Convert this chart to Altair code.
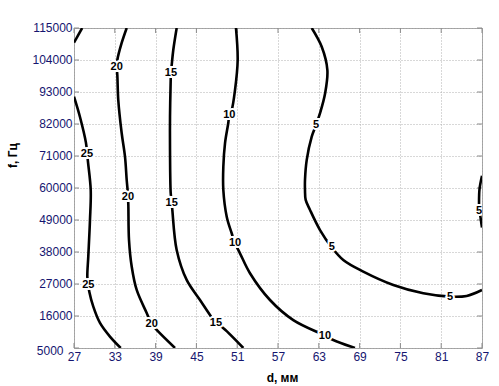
import altair as alt
import pandas as pd

x_ticks = [27, 33, 39, 45, 51, 57, 63, 69, 75, 81, 87]
y_ticks = [5000, 16000, 27000, 38000, 49000, 60000, 71000, 82000, 93000, 104000, 115000]

# contour level 25 (upper-left corner piece and main line)
c25a_d = [27.0, 28.2]
c25a_f = [110000, 115000]
c25_d = [27.0, 27.88, 28.76, 29.06, 29.46, 29.35, 29.10, 28.96, 29.10, 29.25, 29.84, 30.82, 32.29, 33.87]
c25_f = [91400, 84400, 75500, 68900, 59300, 49000, 36400, 29500, 26700, 24350, 19200, 13600, 8900, 5000]
# level 20
c20_d = [34.75, 34.01, 33.37, 33.28, 33.37, 33.51, 34.01, 34.50, 34.75, 34.90, 34.94, 34.99, 35.09, 35.49, 36.22, 37.69, 38.43, 39.16, 41.85]
c20_f = [115000, 109850, 104000, 101700, 98850, 90250, 78900, 70750, 62750, 58750, 56900, 54150, 42100, 32950, 24950, 17050, 13250, 11200, 5000]
# level 15
c15_d = [42.10, 41.60, 41.37, 41.26, 41.22, 41.12, 41.12, 41.22, 41.37, 41.46, 42.10, 43.57, 45.53, 47.00, 47.88, 48.72, 51.90]
c15_f = [115000, 107450, 102300, 99650, 97100, 84500, 73050, 58300, 54750, 52450, 38700, 28400, 21500, 16350, 13500, 12300, 5000]
# level 10
c10_d = [50.82, 51.07, 50.68, 50.19, 49.84, 49.69, 49.21, 48.96, 48.96, 49.46, 50.19, 50.68, 51.41, 52.88, 55.82, 59.25, 63.91, 65.13, 68.32]
c10_f = [115000, 104000, 93700, 86800, 85100, 82350, 75450, 67300, 59300, 50150, 44450, 41000, 37550, 30700, 21500, 14600, 9250, 7750, 5000]
# level 5 (main) and small piece at the right edge
c5_d = [61.96, 63.43, 64.26, 63.93, 63.18, 62.59, 61.96, 61.22, 60.97, 60.97, 61.07, 61.71, 63.18, 64.90, 66.60, 69.54, 73.96, 78.37, 82.29, 84.75, 87.0]
c5_f = [115000, 108550, 100550, 92550, 85700, 81650, 77650, 69600, 62750, 59300, 55900, 52450, 45550, 39600, 35250, 31250, 26650, 23800, 22650, 22900, 24950]
c5r_d = [87.0, 86.63, 86.56, 86.56, 86.71, 86.93, 87.0]
c5r_f = [64200, 59500, 54300, 52100, 50900, 47450, 46400]

lab_d = [28.91, 29.10, 33.28, 34.94, 38.43, 41.26, 41.37, 47.88, 49.84, 50.68, 63.91, 62.59, 64.90, 82.29, 86.56]
lab_f = [71700, 26650, 101700, 56900, 13250, 99650, 54750, 13500, 85100, 41000, 9250, 81650, 39600, 22650, 52100]
lab_t = ["25", "25", "20", "20", "20", "15", "15", "15", "10", "10", "10", "5", "5", "5", "5"]

segs = [("25a", c25a_d, c25a_f), ("25", c25_d, c25_f), ("20", c20_d, c20_f),
        ("15", c15_d, c15_f), ("10", c10_d, c10_f), ("5", c5_d, c5_f), ("5r", c5r_d, c5r_f)]
rows = []
for name, ds, fs in segs:
    for i, (d, f) in enumerate(zip(ds, fs)):
        rows.append({"seg": name, "d": d, "f": f, "o": i})
df = pd.DataFrame(rows)
labels = pd.DataFrame({"d": lab_d, "f": lab_f, "t": lab_t})
xt = pd.DataFrame({"d": x_ticks})
yt = pd.DataFrame({"f": y_ticks})

FONT = "Liberation Sans"
LABC = "#151570"
xs = alt.Scale(domain=[27, 87], nice=False, zero=False)
ys = alt.Scale(domain=[5000, 115000], nice=False, zero=False)
xaxis = alt.Axis(values=x_ticks, title="d, мм", grid=True, ticks=False, domain=False,
                 labelFont=FONT, labelFontSize=12, labelColor=LABC, labelPadding=3,
                 labelFlush=False, format="d",
                 titleFont=FONT, titleFontSize=12, titleFontWeight="bold", titleColor="#000000",
                 titleX=208, titleY=33, titleBaseline="alphabetic", titleAlign="center",
                 gridColor="#b0b0b0", gridDash=[1, 2], gridWidth=1)
yaxis = alt.Axis(values=y_ticks, title="f, Гц", grid=True, ticks=False, domain=False,
                 labelFont=FONT, labelFontSize=12, labelColor=LABC,
                 labelPadding={"condition": {"test": "datum.value == 5000", "value": 11}, "value": 2},
                 labelOffset={"condition": {"test": "datum.value == 5000", "value": 2}, "value": -1},
                 labelFlush=False, format="d",
                 titleFont=FONT, titleFontSize=12, titleFontWeight="bold", titleColor="#000000",
                 titleX=-61.5, titleY=127, titleAngle=270, titleAlign="center", titleBaseline="middle",
                 gridColor="#b0b0b0", gridDash=[1, 2], gridWidth=1)
X = alt.X("d:Q", scale=xs, axis=xaxis)
Y = alt.Y("f:Q", scale=ys, axis=yaxis)

lines = alt.Chart(df).mark_line(color="black", strokeWidth=2.6, clip=True,
                                interpolate="catmull-rom").encode(
    x=X, y=Y, detail="seg:N", order="o:Q")
halo = alt.Chart(labels).mark_text(font=FONT, fontSize=11, fontWeight="bold", stroke="white",
                                   strokeWidth=4, fill="white", clip=True).encode(x=X, y=Y, text="t:N")
txt = alt.Chart(labels).mark_text(font=FONT, fontSize=11, fontWeight="bold", color="black",
                                  clip=True).encode(x=X, y=Y, text="t:N")

tc = "#8a8a8a"
tb = alt.Chart(xt).mark_rule(color=tc).encode(x=X, y=alt.value(320), y2=alt.value(315))
tt = alt.Chart(xt).mark_rule(color=tc).encode(x=X, y=alt.value(0), y2=alt.value(5))
tl = alt.Chart(yt).mark_rule(color=tc).encode(y=Y, x=alt.value(0), x2=alt.value(5))
tr = alt.Chart(yt).mark_rule(color=tc).encode(y=Y, x=alt.value(408), x2=alt.value(403))

chart = alt.layer(tb, tt, tl, tr, lines, halo, txt).properties(
    width=408, height=320,
    autosize=alt.AutoSizeParams(type="none"),
    padding={"left": 74, "top": 28, "right": 17, "bottom": 38},
    background="white",
).configure_view(stroke="#a0a0a0", strokeWidth=1)

chart.save("out.html", embed_options={"renderer": "svg", "actions": False})
